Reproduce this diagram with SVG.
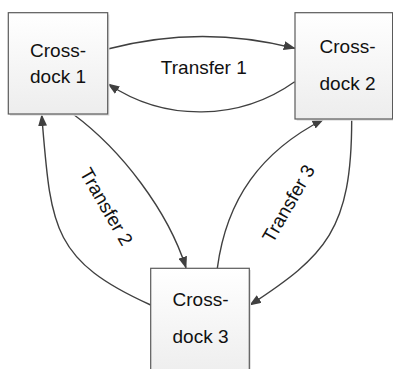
<svg xmlns="http://www.w3.org/2000/svg" width="393" height="369" viewBox="0 0 393 369">
<style>
.box{fill:url(#g);stroke:#5a5a5a;stroke-width:1.2}
.sh{fill:#e2e2e2}
.t{font-family:"Liberation Sans",Arial,sans-serif;font-size:19px;fill:#111;text-anchor:middle}
.ca{fill:none;stroke:#404040;stroke-width:1.4;marker-end:url(#ah)}
</style>
<defs>
<linearGradient id="g" x1="0" y1="0" x2="0" y2="1">
<stop offset="0" stop-color="#ffffff"/>
<stop offset="1" stop-color="#ededed"/>
</linearGradient>
<marker id="ah" markerUnits="userSpaceOnUse" viewBox="0 0 12 9" refX="11" refY="4.5" markerWidth="12" markerHeight="9" orient="auto">
<path d="M0,0 L12,4.5 L0,9 Z" fill="#404040"/>
</marker>
</defs>
<g id="connectors">
<path class="ca" d="M107.7,49 A370,370 0 0 1 294.7,48.3"/>
<path class="ca" d="M294.7,81.7 A164,164 0 0 1 108.3,84"/>
<path class="ca" d="M73.3,114.3 C121.5,150.1 167.8,210.5 186,267.7"/>
<path class="ca" d="M150.7,305 C50.6,259.9 51,226.3 41.7,115"/>
<path class="ca" d="M217.3,268.3 C226.5,198.9 261,151.5 323.3,119.5"/>
<path class="ca" d="M351.7,119.5 C351.7,230 325.7,255.5 250,305"/>
<text class="t" x="203.8" y="74.3">Transfer 1</text>
<text class="t" x="100.8" y="210" transform="rotate(60 100.8 210)">Transfer 2</text>
<text class="t" x="294.2" y="206.7" transform="rotate(-60 294.2 206.7)">Transfer 3</text>
</g>
<g id="node1">
<rect class="sh" x="10" y="14.5" width="99.4" height="101.3"/>
<rect class="box" x="8.3" y="12.7" width="99.4" height="101.3"/>
<text class="t" x="58" y="57.3">Cross-</text>
<text class="t" x="58" y="83.3">dock 1</text>
</g>
<g id="node2">
<rect class="sh" x="296.7" y="14.5" width="98" height="106.3"/>
<rect class="box" x="295" y="12.7" width="97.6" height="106.3"/>
<text class="t" x="347.5" y="53.3">Cross-</text>
<text class="t" x="347.5" y="90">dock 2</text>
</g>
<g id="node3">
<rect class="sh" x="152.4" y="270" width="98.6" height="110"/>
<rect class="box" x="150.7" y="268.3" width="98.6" height="110"/>
<text class="t" x="200.5" y="306">Cross-</text>
<text class="t" x="200.5" y="342.7">dock 3</text>
</g>
</svg>
